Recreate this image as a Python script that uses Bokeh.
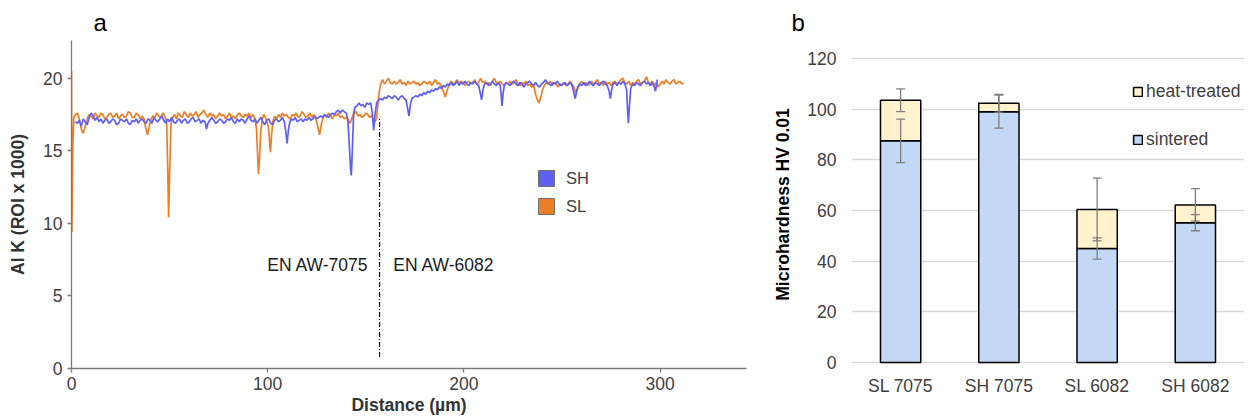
from bokeh.plotting import figure
from bokeh.models import (Range1d, FactorRange, ColumnDataSource, Legend, LegendItem,
                          Label, FixedTicker, Whisker, TeeHead)
from bokeh.layouts import row
from bokeh.embed import file_html
from bokeh.resources import INLINE

FONT = "Liberation Sans"

# ---------------- panel a : Al K line profile (distance µm, counts/1000) ----------------
sl_points = [
    (0, 20.5), (0.2, 9.4), (0.7, 15.5), (1.2, 17.3), (2, 17.5), (3, 17.6), (4, 17.2), (5, 16.5),
    (6, 16.2), (7, 16.7), (8, 17.2), (9, 17.5), (10, 17.4), (11, 17.2), (12, 17.6), (13, 17.4),
    (14, 17.3), (15, 17.6), (16, 17.5), (17, 17.2), (18, 17.3), (19, 17.5), (20, 17.6), (21, 17.3),
    (22, 17.4), (23, 17.6), (24, 17.2), (25, 17.4), (26, 17.5), (27, 17.3), (28, 17.4), (29, 17.7),
    (30, 17.6), (31, 17.3), (32, 17.3), (33, 17.6), (34, 17.5), (35, 17.2), (36, 17.4), (37, 17.2),
    (37.8, 16.6), (38.7, 16.1), (39.5, 16.6), (40.5, 17.2), (41.5, 17.4), (42.5, 17.3), (43.5, 17.6),
    (44.5, 17.4), (45.5, 17.3), (46.5, 17.6), (47.5, 17.4), (48.5, 17.0), (49, 14.0), (49.5, 10.4),
    (50, 13.5), (50.7, 16.8), (51.5, 17.3), (52.5, 17.5), (53.5, 17.2), (54.5, 17.6), (55.5, 17.4),
    (56.5, 17.3), (57.5, 17.7), (58.5, 17.5), (59.5, 17.3), (60.5, 17.6), (61.5, 17.4), (62.5, 17.5),
    (63.5, 17.7), (64.5, 17.3), (65.5, 17.5), (66.5, 17.6), (67.5, 17.8), (68.5, 17.5), (69.5, 17.3),
    (70.5, 17.6), (71.5, 17.4), (72.5, 17.5), (73.5, 17.2), (74.5, 17.4), (75.5, 17.6), (76.5, 17.4),
    (77.5, 17.5), (78.5, 17.2), (79.5, 17.4), (80.5, 17.6), (81.5, 17.3), (82.5, 17.4), (83.5, 17.2),
    (84.5, 17.5), (85.5, 17.6), (86.5, 17.4), (87.5, 17.3), (88.5, 17.5), (89.5, 17.4), (90.5, 17.6),
    (91.5, 17.3), (92.5, 17.5), (93.5, 17.2), (94.3, 16.5), (95, 14.2), (95.3, 13.4), (95.8, 14.5),
    (96.5, 16.4), (97.3, 17.2), (98, 17.5), (98.8, 17.3), (99.6, 17.0), (100.4, 16.6), (101, 15.5),
    (101.4, 14.9), (101.9, 16.0), (102.6, 17.0), (103.5, 17.4), (104.5, 17.2), (105.5, 17.5),
    (106.5, 17.3), (107.5, 17.6), (108.5, 17.4), (109.5, 17.5), (110.5, 17.3), (111.5, 17.2),
    (112.5, 17.5), (113.5, 17.4), (114.5, 17.6), (115.5, 17.3), (116.5, 17.4), (117.5, 17.7),
    (118.5, 17.5), (119.5, 17.3), (120.5, 17.4), (121.5, 17.6), (122.5, 17.3), (123.5, 17.5),
    (124.5, 17.2), (125.5, 16.7), (126.4, 16.1), (127.3, 16.8), (128.2, 17.3), (129, 17.5), (130, 17.3),
    (131, 17.6), (132, 17.4), (133, 17.2), (134, 17.5), (135, 17.4), (136, 17.6), (137, 17.3),
    (138, 17.4), (139, 17.2), (140, 17.3), (141, 17.1), (142, 16.9), (143, 17.3), (144, 17.6),
    (145, 17.7), (146, 17.4), (147, 17.5), (148, 17.3), (149, 17.4), (150, 17.6), (151, 17.5),
    (152, 17.3), (153, 17.4), (154, 17.1), (154.8, 17.0), (155.5, 17.3), (156.3, 18.4), (157, 19.2),
    (157.8, 19.7), (158.5, 19.9), (159.5, 19.6), (160.5, 19.8), (161.5, 20.0), (162.5, 19.7),
    (163.5, 19.6), (164.5, 19.8), (165.5, 19.6), (166.5, 19.7), (167.5, 19.9), (168.5, 19.6),
    (169.5, 19.7), (170.5, 19.5), (171.5, 19.8), (172.5, 19.6), (173.5, 19.7), (174.5, 19.8),
    (175.5, 19.6), (176.5, 19.7), (177.5, 19.5), (178.5, 19.6), (179.5, 19.8), (180.5, 19.7),
    (181.5, 19.6), (182.5, 19.8), (183.5, 19.5), (184.5, 19.7), (185.5, 19.9), (186.5, 19.6),
    (187.5, 19.7), (188.5, 19.4), (189.5, 19.1), (190.5, 18.7), (191.5, 19.2), (192.5, 19.6),
    (193.5, 19.8), (194.5, 19.6), (195.5, 19.7), (196.5, 19.9), (197.5, 19.6), (198.5, 19.8),
    (199.5, 19.7), (200.5, 19.5), (201.5, 19.7), (202.5, 19.8), (203.5, 19.6), (204.5, 19.7),
    (205.5, 19.9), (206.5, 19.6), (207.5, 19.7), (208.5, 20.0), (209.5, 19.7), (210.5, 19.8),
    (211.5, 19.6), (212.5, 19.7), (213.5, 19.5), (214.5, 19.8), (215.5, 20.0), (216.5, 19.7),
    (217.5, 19.6), (218.5, 19.8), (219.5, 19.6), (220.5, 19.5), (221.5, 19.7), (222.5, 19.6),
    (223.5, 19.8), (224.5, 19.6), (225.5, 19.7), (226.5, 19.9), (227.5, 19.6), (228.5, 19.5),
    (229.5, 19.7), (230.5, 19.6), (231.5, 19.8), (232.5, 19.5), (233.5, 19.6), (234.5, 19.4),
    (235.5, 19.5), (236.5, 18.9), (237.5, 18.5), (238.3, 18.3), (239.2, 18.7), (240, 19.2),
    (241, 19.5), (242, 19.7), (243, 19.6), (244, 19.8), (245, 19.5), (246, 19.7), (247, 19.6),
    (248, 19.4), (249, 19.6), (250, 19.5), (251, 19.7), (252, 19.5), (253, 19.6), (254, 19.8),
    (255, 19.6), (256, 19.4), (257, 19.0), (258, 19.3), (259, 19.6), (260, 19.8), (261, 19.6),
    (262, 19.7), (263, 19.5), (264, 19.6), (265, 19.8), (266, 19.6), (267, 19.7), (268, 19.9),
    (269, 19.6), (270, 19.7), (271, 19.5), (272, 19.8), (273, 19.6), (274, 19.7), (275, 19.5),
    (276, 19.7), (277, 19.8), (278, 19.6), (279, 19.7), (280, 19.9), (281, 20.0), (282, 19.7),
    (283, 19.6), (284, 19.8), (285, 19.5), (286, 19.7), (287, 19.6), (288, 19.8), (289, 19.9),
    (290, 19.6), (291, 19.7), (292, 19.8), (293, 20.1), (294, 19.7), (295, 19.6), (296, 19.8),
    (297, 19.5), (298, 19.7), (299, 19.4), (300, 19.6), (301, 19.8), (302, 19.6), (303, 19.9),
    (304, 19.7), (305, 19.6), (306, 19.8), (307, 19.9), (308, 19.6), (309, 19.7), (310, 19.8),
    (311, 19.6), (312, 19.7),
]

sh_points = [
    (2, 17.0), (3, 16.9), (4, 17.1), (5, 16.7), (6, 17.2), (7, 17.0), (8, 16.8), (9, 17.3), (10, 17.6),
    (11, 17.4), (12, 17.1), (13, 17.3), (14, 17.0), (15, 17.2), (16, 16.9), (17, 17.1), (18, 17.2),
    (19, 16.9), (20, 17.0), (21, 17.2), (22, 17.1), (23, 16.8), (24, 16.9), (25, 17.2), (26, 17.1),
    (27, 17.0), (28, 17.2), (29, 16.9), (30, 16.8), (31, 17.1), (32, 17.0), (33, 17.2), (34, 16.9),
    (35, 17.1), (36, 17.2), (37, 17.0), (38, 16.9), (39, 17.2), (40, 17.1), (41, 16.9), (42, 17.3),
    (43, 17.1), (44, 17.0), (45, 17.2), (46, 17.4), (47, 17.1), (48, 16.9), (49, 17.2), (50, 17.0),
    (51, 17.3), (52, 17.0), (53, 16.9), (54, 17.1), (55, 17.2), (56, 16.9), (57, 17.1), (58, 17.2),
    (59, 16.9), (60, 17.0), (61, 17.2), (62, 17.3), (63, 17.0), (64, 17.1), (65, 17.2), (66, 16.9),
    (67, 17.1), (68, 17.0), (68.8, 16.5), (69.5, 16.9), (70.5, 17.1), (71.5, 17.3), (72.5, 17.1),
    (73.5, 16.9), (74.5, 17.0), (75.5, 17.2), (76.5, 17.1), (77.5, 16.9), (78.5, 17.0), (79.5, 17.2),
    (80.5, 17.1), (81.5, 17.3), (82.5, 17.0), (83.5, 16.9), (84.5, 17.2), (85.5, 17.0), (86.5, 17.2),
    (87.5, 17.1), (88.5, 16.9), (89.5, 17.2), (90.5, 17.4), (91.5, 17.1), (92.5, 17.0), (93.5, 17.2),
    (94.5, 16.9), (95.5, 17.1), (96.5, 17.3), (97.5, 17.0), (98.5, 16.8), (99.5, 17.1), (100.5, 17.2),
    (101.5, 16.9), (102.5, 16.8), (103.5, 17.1), (104.5, 17.2), (105.5, 17.0), (106.5, 17.1),
    (107.5, 17.3), (108.5, 17.0), (109.3, 16.2), (109.9, 15.5), (110.5, 16.4), (111.3, 17.0),
    (112, 17.2), (113, 17.1), (114, 17.3), (115, 17.0), (116, 17.1), (117, 17.2), (118, 17.0),
    (119, 17.2), (120, 17.1), (121, 17.3), (122, 17.1), (123, 17.2), (124, 17.4), (125, 17.2),
    (126, 17.3), (127, 17.4), (128, 17.3), (129, 17.5), (130, 17.4), (131, 17.3), (132, 17.5),
    (133, 17.6), (134, 17.5), (135, 17.7), (136, 17.8), (137, 17.6), (138, 17.8), (139, 17.7),
    (140, 17.6), (140.8, 17.2), (141.5, 15.6), (142.2, 13.8), (142.6, 13.3), (143.1, 15.0),
    (143.8, 17.6), (144.5, 18.0), (145.5, 18.1), (146.5, 18.3), (147.5, 18.1), (148.5, 18.2),
    (149.5, 18.0), (150.5, 18.3), (151.5, 18.2), (152.5, 18.3), (153.3, 17.6), (154, 16.4),
    (154.7, 17.5), (155.5, 18.3), (156.5, 18.5), (157.5, 18.6), (158.5, 18.5), (159.5, 18.7),
    (160.5, 18.6), (161.5, 18.8), (162.5, 18.7), (163.5, 18.6), (164.5, 18.8), (165.5, 18.7),
    (166.5, 18.5), (167.5, 18.7), (168.5, 18.8), (169.5, 18.6), (170.5, 18.5), (171.3, 17.9),
    (172, 17.4), (172.7, 18.2), (173.5, 18.6), (174.5, 18.7), (175.5, 18.8), (176.5, 18.7),
    (177.5, 18.9), (178.5, 18.8), (179.5, 19.0), (180.5, 18.9), (181.5, 19.1), (182.5, 19.0),
    (183.5, 19.2), (184.5, 19.1), (185.5, 19.3), (186.5, 19.2), (187.5, 19.4), (188.5, 19.3),
    (189.5, 19.5), (190.5, 19.4), (191.5, 19.6), (192.5, 19.5), (193.5, 19.7), (194.5, 19.5),
    (195.5, 19.6), (196.5, 19.8), (197.5, 19.5), (198.5, 19.7), (199.5, 19.6), (200.5, 19.8),
    (201.5, 19.6), (202.5, 19.5), (203.5, 19.7), (204.5, 19.6), (205.5, 19.8), (206.5, 19.6),
    (207.5, 19.5), (208.3, 19.0), (209, 18.5), (209.7, 19.2), (210.5, 19.6), (211.5, 19.7),
    (212.5, 19.5), (213.5, 19.6), (214.5, 19.8), (215.5, 19.6), (216.5, 19.5), (217.5, 19.7),
    (218.5, 19.5), (219, 18.8), (219.4, 18.1), (219.9, 18.9), (220.6, 19.5), (221.5, 19.7),
    (222.5, 19.6), (223.5, 19.5), (224.5, 19.7), (225.5, 19.8), (226.5, 19.6), (227.5, 19.5),
    (228.5, 19.7), (229.5, 19.6), (230.5, 19.4), (231.5, 19.6), (232.5, 19.7), (233.5, 19.8),
    (234.5, 19.6), (235.5, 19.5), (236.5, 19.7), (237.5, 19.5), (238.5, 19.4), (239.5, 19.6),
    (240.5, 19.7), (241.5, 19.9), (242.5, 19.7), (243.5, 19.6), (244.5, 19.5), (245.5, 19.7),
    (246.5, 19.6), (247.5, 19.8), (248.5, 19.6), (249.5, 19.5), (250.5, 19.6), (251.5, 19.7),
    (252.5, 19.5), (253.5, 19.6), (254.5, 19.7), (255.5, 19.3), (256.2, 18.9), (256.7, 18.6),
    (257.3, 19.0), (258, 19.4), (259, 19.6), (260, 19.5), (261, 19.7), (262, 19.5), (263, 19.6),
    (264, 19.8), (265, 19.6), (266, 19.5), (267, 19.7), (268, 19.6), (269, 19.5), (270, 19.7),
    (271, 19.8), (272, 19.6), (273, 19.5), (274, 19.1), (274.6, 18.6), (275.3, 19.2), (276, 19.6),
    (277, 19.7), (278, 19.5), (279, 19.7), (280, 19.6), (281, 19.8), (282, 19.6), (282.9, 19.2),
    (283.4, 17.8), (283.8, 16.9), (284.3, 18.0), (285, 19.3), (286, 19.6), (287, 19.5), (288, 19.7),
    (289, 19.6), (290, 19.5), (291, 19.7), (292, 19.8), (293, 19.6), (294, 19.7), (295, 19.5),
    (296, 19.7), (297, 19.4), (297.6, 19.1), (298.2, 19.6), (298.5, 19.9),
]

sl_x = [p[0] for p in sl_points]
sl_y = [p[1] for p in sl_points]
sh_x = [p[0] for p in sh_points]
sh_y = [p[1] for p in sh_points]

boundary_x = 157
boundary_y = [0.8, 17.2]
region_labels = ["EN AW-7075", "EN AW-6082"]
x_ticks_a = [0, 100, 200, 300]
y_ticks_a = [0, 5, 10, 15, 20]

BLUE = "#5F5FF2"
ORANGE = "#EC7F24"
TICK_COLOR = "#404040"
AXIS_COLOR = "#7A7A7A"
NAN = float("nan")

p1 = figure(width=770, height=418, x_range=Range1d(0, 344), y_range=Range1d(0, 22.6),
            output_backend="svg", toolbar_location=None,
            min_border_left=71, min_border_right=24, min_border_top=40, min_border_bottom=50)
p1.grid.visible = False
p1.outline_line_color = None

p1.line(sl_x, sl_y, line_color=ORANGE, line_width=1.7)
p1.line(sh_x, sh_y, line_color=BLUE, line_width=1.7)
p1.segment(x0=[boundary_x], y0=[boundary_y[0]], x1=[boundary_x], y1=[boundary_y[1]],
           line_color="black", line_width=1.2, line_dash="5 2 1 2")

p1.add_layout(Label(x=boundary_x - 5.7, y=7.1, text=region_labels[0], text_align="right",
                    text_baseline="middle", text_font=FONT, text_font_size="17.5px", text_color="#1a1a1a"))
p1.add_layout(Label(x=boundary_x + 7.0, y=7.1, text=region_labels[1], text_align="left",
                    text_baseline="middle", text_font=FONT, text_font_size="17.5px", text_color="#1a1a1a"))

# legend-only swatches (no visible marks)
r_sh = p1.quad(left=[NAN], right=[NAN], top=[NAN], bottom=[NAN], fill_color=BLUE,
               line_color="#707070", line_width=1)
r_sl = p1.quad(left=[NAN], right=[NAN], top=[NAN], bottom=[NAN], fill_color=ORANGE,
               line_color="#707070", line_width=1)
leg1 = Legend(items=[LegendItem(label="SH", renderers=[r_sh]), LegendItem(label="SL", renderers=[r_sl])],
              location=(465, 152), padding=0, margin=0, spacing=8, glyph_width=20, glyph_height=20,
              label_height=20, label_standoff=10, label_text_font=FONT, label_text_font_size="16.5px",
              label_text_color=TICK_COLOR, border_line_color=None, background_fill_alpha=0)
p1.add_layout(leg1, "center")

p1.xaxis.ticker = FixedTicker(ticks=x_ticks_a)
p1.yaxis.ticker = FixedTicker(ticks=y_ticks_a)
for ax in (p1.xaxis[0], p1.yaxis[0]):
    ax.axis_line_color = AXIS_COLOR
    ax.axis_line_width = 1.3
    ax.major_tick_line_color = AXIS_COLOR
    ax.major_tick_line_width = 1.3
    ax.major_tick_out = 4
    ax.major_tick_in = 0
    ax.minor_tick_line_color = None
    ax.major_label_text_font = FONT
    ax.major_label_text_font_size = "17.5px"
    ax.major_label_text_color = TICK_COLOR
    ax.axis_label_text_font = FONT
    ax.axis_label_text_font_size = "17.5px"
    ax.axis_label_text_font_style = "bold"
    ax.axis_label_text_color = "#333333"
p1.xaxis.axis_label = "Distance (µm)"
p1.yaxis.axis_label = "Al K (ROI x 1000)"
p1.xaxis.major_label_standoff = 4
p1.xaxis.axis_label_standoff = 2
p1.yaxis.major_label_standoff = 5
p1.yaxis.axis_label_standoff = 12

p1.title.text = "a"
p1.title.align = "left"
p1.title.offset = 22
p1.title.standoff = 10
p1.title.text_font = FONT
p1.title.text_font_size = "24px"
p1.title.text_font_style = "normal"
p1.title.text_color = "black"

# ---------------- panel b : microhardness ----------------
categories = ["SL 7075", "SH 7075", "SL 6082", "SH 6082"]
sintered = [87.5, 99.0, 45.0, 55.2]
heat_treated = [16.0, 3.3, 15.4, 7.0]
sintered_err = [8.6, 6.5, 4.2, 3.2]
total_err = [4.5, 3.5, 12.4, 6.4]
y_ticks_b = [0, 20, 40, 60, 80, 100, 120]

total = [s + h for s, h in zip(sintered, heat_treated)]
src = ColumnDataSource(dict(
    cat=categories, sintered=sintered, total=total,
    s_lo=[s - e for s, e in zip(sintered, sintered_err)],
    s_hi=[s + e for s, e in zip(sintered, sintered_err)],
    t_lo=[t - e for t, e in zip(total, total_err)],
    t_hi=[t + e for t, e in zip(total, total_err)],
))

SINT = "#C2D8F4"
HEAT = "#FFF2CC"
ERR = "#7F7F7F"

p2 = figure(width=476, height=418, x_range=FactorRange(factors=categories), y_range=Range1d(-2.37, 127.1),
            output_backend="svg", toolbar_location=None,
            min_border_left=77, min_border_right=2, min_border_top=40, min_border_bottom=50)
p2.outline_line_color = None
p2.xgrid.visible = False
p2.ygrid.ticker = FixedTicker(ticks=y_ticks_b)
p2.ygrid.grid_line_color = "#D9D9D9"
p2.ygrid.grid_line_width = 1.3

r_sint = p2.vbar(x="cat", bottom=0, top="sintered", width=0.41, source=src,
                 fill_color=SINT, line_color="black", line_width=1.5)
r_heat = p2.vbar(x="cat", bottom="sintered", top="total", width=0.41, source=src,
                 fill_color=HEAT, line_color="black", line_width=1.5)

for lo, hi in (("s_lo", "s_hi"), ("t_lo", "t_hi")):
    w = Whisker(base="cat", lower=lo, upper=hi, source=src, level="annotation",
                line_color=ERR, line_width=1.3,
                upper_head=TeeHead(size=9, line_color=ERR, line_width=1.3),
                lower_head=TeeHead(size=9, line_color=ERR, line_width=1.3))
    p2.add_layout(w)

leg2 = Legend(items=[LegendItem(label="heat-treated", renderers=[r_heat]),
                     LegendItem(label="sintered", renderers=[r_sint])],
              location=(281, 218), padding=0, margin=0, spacing=27, glyph_width=11, glyph_height=11,
              label_height=20, label_standoff=3, label_text_font=FONT, label_text_font_size="17.5px",
              label_text_color=TICK_COLOR, border_line_color=None, background_fill_alpha=0)
p2.add_layout(leg2, "center")

p2.yaxis.ticker = FixedTicker(ticks=y_ticks_b)
for ax in (p2.xaxis[0], p2.yaxis[0]):
    ax.axis_line_color = None
    ax.major_tick_line_color = None
    ax.major_tick_out = 0
    ax.major_tick_in = 0
    ax.minor_tick_line_color = None
    ax.major_label_text_font = FONT
    ax.major_label_text_font_size = "17.5px"
    ax.major_label_text_color = TICK_COLOR
p2.xaxis.major_label_standoff = 7
p2.yaxis.major_label_standoff = 15
p2.yaxis.axis_label = "Microhardness HV 0.01"
p2.yaxis.axis_label_text_font = FONT
p2.yaxis.axis_label_text_font_size = "17.5px"
p2.yaxis.axis_label_text_font_style = "bold"
p2.yaxis.axis_label_text_color = "black"
p2.yaxis.axis_label_standoff = 11

p2.title.text = "b"
p2.title.align = "left"
p2.title.offset = -60
p2.title.standoff = 10
p2.title.text_font = FONT
p2.title.text_font_size = "24px"
p2.title.text_font_style = "normal"
p2.title.text_color = "black"

layout = row(p1, p2)
open("out.html", "w").write(file_html(layout, INLINE))
